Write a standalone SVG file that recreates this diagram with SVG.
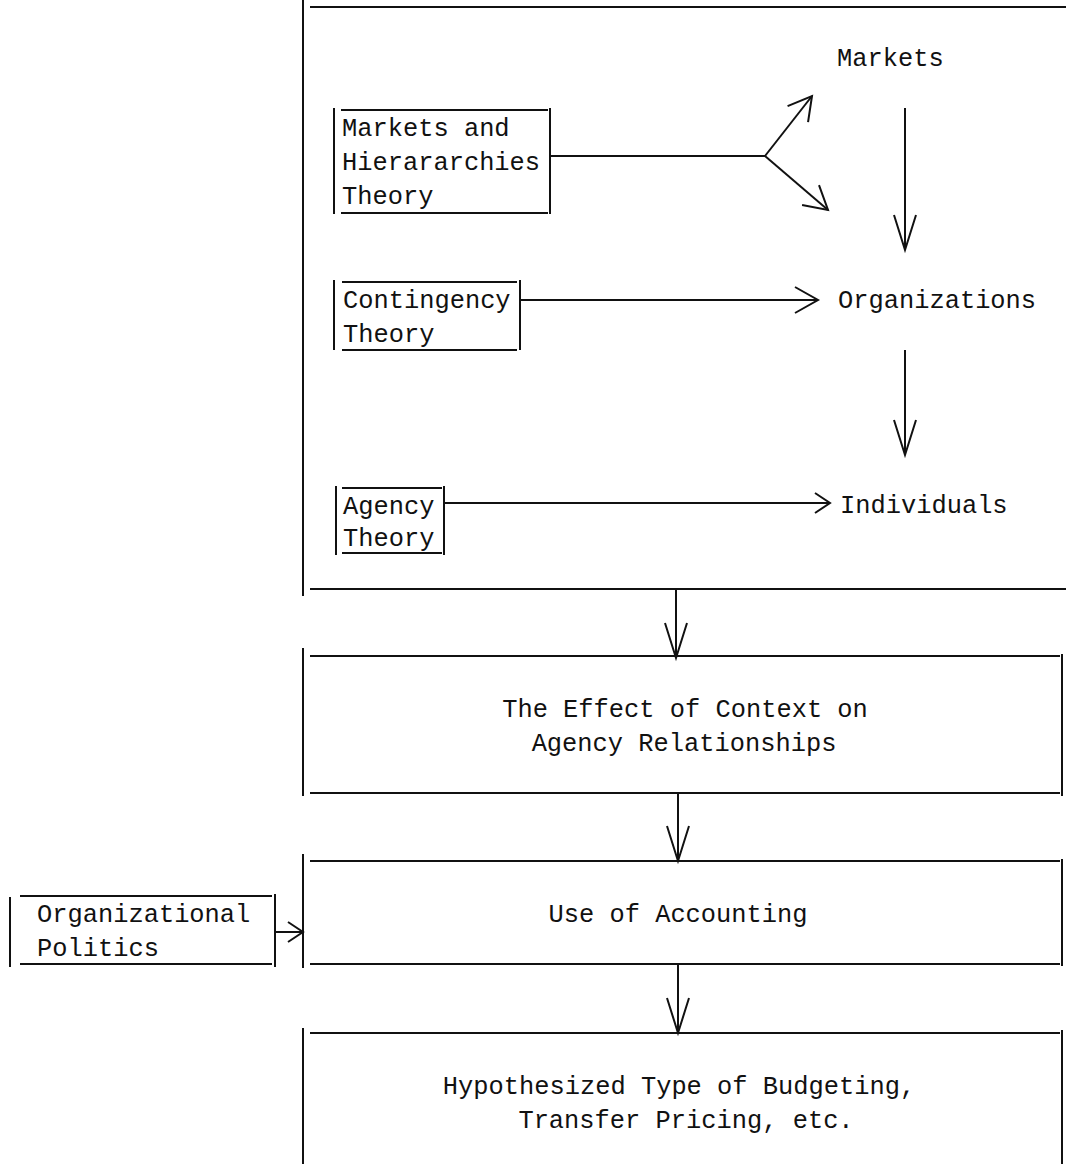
<svg xmlns="http://www.w3.org/2000/svg" width="1066" height="1164" viewBox="0 0 1066 1164">
<style>
.edge{stroke:#111;stroke-width:2;fill:none}
.con{stroke:#111;stroke-width:2;fill:none}
text{font-family:"Liberation Mono","DejaVu Sans Mono",monospace;font-size:25.4px;fill:#111}
.c{text-anchor:middle}
</style>
<defs>
<marker id="vhead" markerUnits="userSpaceOnUse" viewBox="0 0 36 24" refX="35" refY="12" markerWidth="36" markerHeight="24" orient="auto" overflow="visible">
<path d="M0,1 L35,12 L0,23" fill="none" stroke="#111" stroke-width="2"/>
</marker>
<marker id="hhead" markerUnits="userSpaceOnUse" viewBox="0 0 24 28" refX="23" refY="14" markerWidth="24" markerHeight="28" orient="auto" overflow="visible">
<path d="M0,1 L23,14 L0,27" fill="none" stroke="#111" stroke-width="2"/>
</marker>
<marker id="shead" markerUnits="userSpaceOnUse" viewBox="0 0 16 22" refX="15" refY="11" markerWidth="16" markerHeight="22" orient="auto" overflow="visible">
<path d="M0,1 L15,11 L0,21" fill="none" stroke="#111" stroke-width="2"/>
</marker>
</defs>
<rect width="1066" height="1164" fill="#fff"/>

<g id="frame">
<line class="edge" x1="303" y1="0" x2="303" y2="596"/>
<line class="edge" x1="310" y1="7" x2="1066" y2="7"/>
<line class="edge" x1="310" y1="589" x2="1066" y2="589"/>
</g>

<g id="markets-hierarchies">
<line class="edge" x1="334" y1="108" x2="334" y2="214"/>
<line class="edge" x1="341" y1="110" x2="548" y2="110"/>
<line class="edge" x1="341" y1="213" x2="548" y2="213"/>
<line class="edge" x1="550" y1="108" x2="550" y2="214"/>
<text x="342" y="136">Markets and</text>
<text x="342" y="170">Hierararchies</text>
<text x="342" y="204">Theory</text>
</g>

<g id="contingency">
<line class="edge" x1="334" y1="280" x2="334" y2="350"/>
<line class="edge" x1="342" y1="282" x2="517" y2="282"/>
<line class="edge" x1="342" y1="350" x2="517" y2="350"/>
<line class="edge" x1="520" y1="280" x2="520" y2="350"/>
<text x="343" y="308">Contingency</text>
<text x="343" y="342">Theory</text>
</g>

<g id="agency">
<line class="edge" x1="336" y1="486" x2="336" y2="555"/>
<line class="edge" x1="342" y1="488" x2="442" y2="488"/>
<line class="edge" x1="342" y1="553" x2="442" y2="553"/>
<line class="edge" x1="444" y1="486" x2="444" y2="555"/>
<text x="343" y="514">Agency</text>
<text x="343" y="546">Theory</text>
</g>

<g id="markets"><text x="837" y="66">Markets</text></g>
<g id="organizations"><text x="838" y="308">Organizations</text></g>
<g id="individuals"><text x="840" y="513">Individuals</text></g>

<g id="effect-of-context">
<line class="edge" x1="303" y1="648" x2="303" y2="796"/>
<line class="edge" x1="310" y1="656" x2="1060" y2="656"/>
<line class="edge" x1="310" y1="793" x2="1060" y2="793"/>
<line class="edge" x1="1062" y1="654" x2="1062" y2="796"/>
<text class="c" x="685" y="717">The Effect of Context on</text>
<text class="c" x="684" y="751">Agency Relationships</text>
</g>

<g id="use-of-accounting">
<line class="edge" x1="303" y1="854" x2="303" y2="968"/>
<line class="edge" x1="310" y1="861" x2="1060" y2="861"/>
<line class="edge" x1="310" y1="964" x2="1060" y2="964"/>
<line class="edge" x1="1062" y1="859" x2="1062" y2="966"/>
<text class="c" x="678" y="922">Use of Accounting</text>
</g>

<g id="organizational-politics">
<line class="edge" x1="10" y1="897" x2="10" y2="967"/>
<line class="edge" x1="20" y1="896" x2="272" y2="896"/>
<line class="edge" x1="20" y1="964" x2="272" y2="964"/>
<line class="edge" x1="275" y1="894" x2="275" y2="967"/>
<text x="37" y="922">Organizational</text>
<text x="37" y="956">Politics</text>
</g>

<g id="hypothesized">
<line class="edge" x1="303" y1="1028" x2="303" y2="1164"/>
<line class="edge" x1="310" y1="1033" x2="1060" y2="1033"/>
<line class="edge" x1="1062" y1="1030" x2="1062" y2="1164"/>
<text class="c" x="679" y="1094">Hypothesized Type of Budgeting,</text>
<text class="c" x="686" y="1128">Transfer Pricing, etc.</text>
</g>

<g id="connectors">
<polyline class="con" points="550,156 765,156"/>
<line class="con" x1="765" y1="156" x2="812" y2="96" marker-end="url(#hhead)"/>
<line class="con" x1="765" y1="156" x2="828" y2="210" marker-end="url(#hhead)"/>
<line class="con" x1="905" y1="108" x2="905" y2="250" marker-end="url(#vhead)"/>
<line class="con" x1="520" y1="300" x2="818" y2="300" marker-end="url(#hhead)"/>
<line class="con" x1="905" y1="350" x2="905" y2="455" marker-end="url(#vhead)"/>
<line class="con" x1="444" y1="503" x2="830" y2="503" marker-end="url(#shead)"/>
<line class="con" x1="676" y1="589" x2="676" y2="658" marker-end="url(#vhead)"/>
<line class="con" x1="678" y1="793" x2="678" y2="861" marker-end="url(#vhead)"/>
<line class="con" x1="275" y1="932" x2="303" y2="932" marker-end="url(#shead)"/>
<line class="con" x1="678" y1="964" x2="678" y2="1033" marker-end="url(#vhead)"/>
</g>
</svg>
